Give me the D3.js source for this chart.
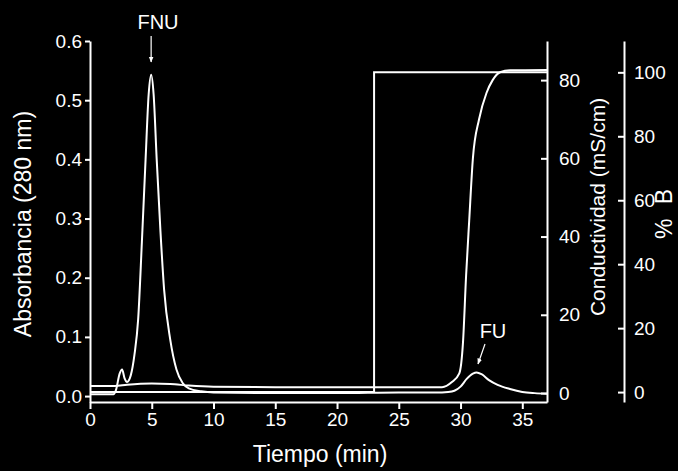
<!DOCTYPE html>
<html>
<head>
<meta charset="utf-8">
<script src="https://cdn.jsdelivr.net/npm/d3@7"></script>
<style>
  html, body { margin: 0; padding: 0; background: #000; }
  svg { display: block; background: #000; }
  text { font-family: "Liberation Sans", Arial, sans-serif; fill: #fff; }
</style>
</head>
<body>
<script>
var width = 678;
var height = 471;

// absorbance trace (280 nm), time in min
var absTime = [0, 1.9, 2.1, 2.4, 2.6, 2.8, 3.0, 3.3, 3.6, 3.9, 4.2, 4.5, 4.75, 4.95, 5.15, 5.4, 5.7, 6.0, 6.5, 7.0, 7.5, 8.0, 9.0, 10, 15, 20, 25, 28, 29, 29.5, 30, 30.5, 31, 31.3, 31.7, 32.3, 33, 34, 35, 36, 37];
var absValue = [0.003, 0.003, 0.01, 0.038, 0.045, 0.03, 0.024, 0.035, 0.07, 0.13, 0.26, 0.40, 0.51, 0.543, 0.51, 0.40, 0.28, 0.18, 0.095, 0.045, 0.022, 0.013, 0.008, 0.006, 0.005, 0.005, 0.006, 0.006, 0.007, 0.009, 0.016, 0.029, 0.038, 0.040, 0.037, 0.027, 0.019, 0.012, 0.007, 0.005, 0.004];

// conductivity trace (mS/cm)
var condTime = [0, 2, 3, 5, 6.5, 8, 10, 15, 28.5, 29.3, 29.9, 30.2, 30.45, 30.7, 31.0, 31.5, 32.1, 32.6, 33.2, 34, 37];
var condValue = [1.8, 1.8, 2.1, 2.4, 2.3, 1.9, 1.6, 1.5, 1.5, 2.8, 5, 13, 30, 44, 60, 70, 76.7, 80, 82, 82.5, 82.6];

// gradient (% B)
var bTime = [0, 23, 23, 37];
var bValue = [0, 0, 100, 100];

var xTicks = [0, 5, 10, 15, 20, 25, 30, 35];
var absTicks = [0, 0.1, 0.2, 0.3, 0.4, 0.5, 0.6];
var condTicks = [0, 20, 40, 60, 80];
var bTicks = [0, 20, 40, 60, 80, 100];

var svg = d3.select("body")
            .append("svg")
            .attr("width", width)
            .attr("height", height);

var x = d3.scaleLinear().domain([0, 37]).range([90, 547]);
var yAbs = d3.scaleLinear().domain([-0.01, 0.6]).range([402, 41]);
var yCond = d3.scaleLinear().domain([-2.3, 90]).range([402, 41]);
var yB = d3.scaleLinear().domain([-3.1, 109.8]).range([402, 41]);

var styleAxis = function(g) {
  g.selectAll("path, line").attr("stroke", "#fff").attr("stroke-width", 2);
  g.selectAll("text").attr("fill", "#fff").style("font-size", "19px")
    .style("font-family", "'Liberation Sans', Arial, sans-serif");
};

svg.append("g")
  .attr("transform", "translate(0,402)")
  .call(d3.axisBottom(x).tickValues(xTicks).tickSize(7).tickSizeOuter(0).tickPadding(4))
  .call(styleAxis);

svg.append("g")
  .attr("transform", "translate(90,0)")
  .call(d3.axisLeft(yAbs).tickValues(absTicks).tickFormat(d3.format(".1f")).tickSize(5).tickSizeOuter(0).tickPadding(3))
  .call(styleAxis);

// right axes: ticks point inward, labels on the outside
svg.append("g")
  .attr("transform", "translate(547,0)")
  .call(d3.axisRight(yCond).tickValues(condTicks).tickSize(-6).tickSizeOuter(0).tickPadding(12))
  .call(styleAxis);

svg.append("g")
  .attr("transform", "translate(624,0)")
  .call(d3.axisRight(yB).tickValues(bTicks).tickSize(-6).tickSizeOuter(0).tickPadding(10))
  .call(styleAxis);

var lineOf = function(xs, ys, yScale, curve) {
  var pts = xs.map(function(t, i) { return [t, ys[i]]; });
  return d3.line()
    .x(function(d) { return x(d[0]); })
    .y(function(d) { return yScale(d[1]); })
    .curve(curve)(pts);
};

svg.append("path")
  .attr("d", lineOf(bTime, bValue, yB, d3.curveLinear))
  .attr("fill", "none").attr("stroke", "#fff").attr("stroke-width", 2);

svg.append("path")
  .attr("d", lineOf(condTime, condValue, yCond, d3.curveMonotoneX))
  .attr("fill", "none").attr("stroke", "#fff").attr("stroke-width", 2);

svg.append("path")
  .attr("d", lineOf(absTime, absValue, yAbs, d3.curveMonotoneX))
  .attr("fill", "none").attr("stroke", "#fff").attr("stroke-width", 2);

// axis titles
svg.append("text")
  .attr("x", 320).attr("y", 462)
  .attr("text-anchor", "middle")
  .style("font-size", "23px")
  .text("Tiempo (min)");

svg.append("text")
  .attr("transform", "translate(31,224) rotate(-90)")
  .attr("text-anchor", "middle")
  .style("font-size", "23px")
  .text("Absorbancia (280 nm)");

svg.append("text")
  .attr("transform", "translate(605,207) rotate(-90)")
  .attr("text-anchor", "middle")
  .style("font-size", "21px")
  .text("Conductividad (mS/cm)");

svg.append("text")
  .attr("transform", "translate(672,214) rotate(-90)")
  .attr("text-anchor", "middle")
  .style("font-size", "23px")
  .style("word-spacing", "8px")
  .text("% B");

// peak labels with arrows
svg.append("defs").append("marker")
  .attr("id", "head")
  .attr("viewBox", "0 0 10 10")
  .attr("refX", 9).attr("refY", 5)
  .attr("markerWidth", 5).attr("markerHeight", 5)
  .attr("orient", "auto")
  .append("path")
  .attr("d", "M0,1L10,5L0,9Z")
  .attr("fill", "#fff");

svg.append("text")
  .attr("x", 158).attr("y", 29)
  .attr("text-anchor", "middle")
  .style("font-size", "20px")
  .text("FNU");

svg.append("line")
  .attr("x1", x(4.95)).attr("y1", 36)
  .attr("x2", x(4.95)).attr("y2", 62)
  .attr("stroke", "#fff").attr("stroke-width", 1.2)
  .attr("marker-end", "url(#head)");

svg.append("text")
  .attr("x", 493).attr("y", 338)
  .attr("text-anchor", "middle")
  .style("font-size", "20px")
  .text("FU");

svg.append("line")
  .attr("x1", 485).attr("y1", 344)
  .attr("x2", 478).attr("y2", 364)
  .attr("stroke", "#fff").attr("stroke-width", 1.2)
  .attr("marker-end", "url(#head)");
</script>
</body>
</html>
